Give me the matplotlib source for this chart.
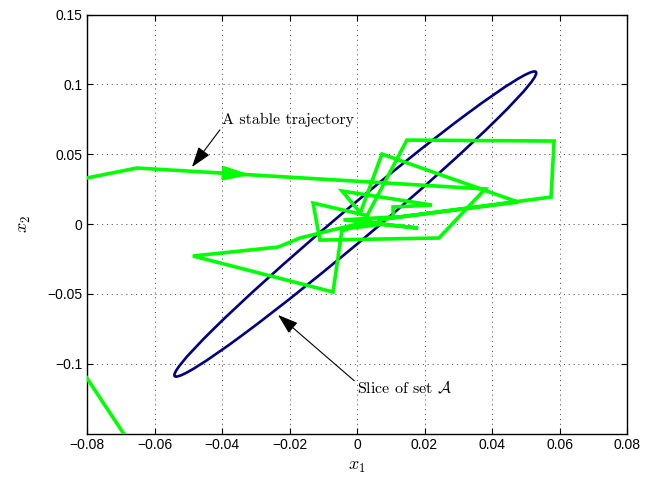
import numpy as np
import matplotlib
matplotlib.use('Agg')
import matplotlib.pyplot as plt
from matplotlib.patches import Ellipse

plt.rcParams['font.family'] = ['Liberation Sans', 'DejaVu Sans']
plt.rcParams['mathtext.fontset'] = 'cm'

# trajectory vertices (first ones lie outside the axes)
traj_x1 = [-0.090, -0.028, -0.200, -0.0652, 0.0380, 0.0243, -0.0110, -0.0130,
           0.0030, 0.0148, 0.0584, 0.0575, 0.0060, 0.0477, 0.0074, 0.0010,
           -0.0044, 0.0222, 0.0107, 0.0107, -0.0040, 0.0181, 0.0020, -0.0074,
           -0.0169, -0.0234, -0.0486, -0.0071, -0.0045, -0.0020, 0.0080, 0.0030]
traj_x2 = [-0.074, -0.300, -0.025, 0.0401, 0.0251, -0.0100, -0.0115, 0.0150,
           0.0060, 0.0601, 0.0594, 0.0193, 0.0030, 0.0157, 0.0501, 0.0080,
           0.0236, 0.0136, 0.0122, 0.0050, 0.0030, -0.0029, 0.0010, -0.0043,
           -0.0100, -0.0165, -0.0229, -0.0487, -0.0050, -0.0030, 0.0000, 0.0020]
arrow_seg = 3       # segment that carries the direction arrow
arrow_frac = 0.325

# slice of set A (ellipse)
slice_center = (-0.0005, 0.0)
slice_width = 0.243
slice_height = 0.0136
slice_angle = 64.0

xticks = [-0.08, -0.06, -0.04, -0.02, 0, 0.02, 0.04, 0.06, 0.08]
yticks = [-0.1, -0.05, 0, 0.05, 0.1, 0.15]

fig = plt.figure(figsize=(6.45, 4.84), dpi=100)
ax = fig.add_axes([0.1349, 0.1043, 0.8372, 0.8657])

ell = Ellipse(slice_center, slice_width, slice_height, angle=slice_angle,
              fill=False, edgecolor='#000080', lw=1.9, zorder=3)
ax.add_patch(ell)

ax.plot(traj_x1, traj_x2, color='#00ff00', lw=2.6, zorder=4, solid_joinstyle='miter')

# direction arrow on the trajectory
p0 = np.array([traj_x1[arrow_seg], traj_x2[arrow_seg]])
p1 = np.array([traj_x1[arrow_seg + 1], traj_x2[arrow_seg + 1]])
tip = p0 + arrow_frac * (p1 - p0)
tail = p0 + (arrow_frac - 0.05) * (p1 - p0)
ax.annotate('', xy=tip, xytext=tail,
            arrowprops=dict(arrowstyle='-|>,head_length=1.1,head_width=0.3',
                            color='#00ff00', lw=2.6, mutation_scale=13,
                            shrinkA=0, shrinkB=0), zorder=5)

# text annotations
ax.annotate('A stable trajectory', xy=(-0.0489, 0.0408), xytext=(-0.0400, 0.0745),
            fontsize=11.5, family='cmr10', va='center', ha='left',
            arrowprops=dict(arrowstyle='-|>,head_length=0.9,head_width=0.3',
                            color='k', lw=0.8, mutation_scale=14,
                            shrinkA=0, shrinkB=0, relpos=(0, 0)))
ax.annotate(r'Slice of set $\mathcal{A}$', xy=(-0.0234, -0.0651), xytext=(0.0, -0.1174),
            fontsize=11.5, family='cmr10', va='center', ha='left',
            arrowprops=dict(arrowstyle='-|>,head_length=0.9,head_width=0.3',
                            color='k', lw=0.8, mutation_scale=14,
                            shrinkA=0, shrinkB=0, relpos=(0, 0.8)))

ax.set_xlim(-0.08, 0.08)
ax.set_ylim(-0.15, 0.15)
ax.set_xticks(xticks)
ax.set_yticks(yticks)
ax.set_xticklabels(['%g' % t if t >= 0 else '\u2212%g' % -t for t in xticks])
ax.set_yticklabels(['%g' % t if t >= 0 else '\u2212%g' % -t for t in yticks])
ax.tick_params(direction='in', top=True, right=True, length=4, width=0.8, labelsize=10)
ax.grid(True, color='0.25', linestyle=(0, (1, 4)), lw=0.7)
for s in ax.spines.values():
    s.set_linewidth(1.0)

ax.set_xlabel('$x_1$', fontsize=13, labelpad=4)
ax.set_ylabel('$x_2$', fontsize=13, labelpad=10)

fig.savefig('out.png', dpi=100)
